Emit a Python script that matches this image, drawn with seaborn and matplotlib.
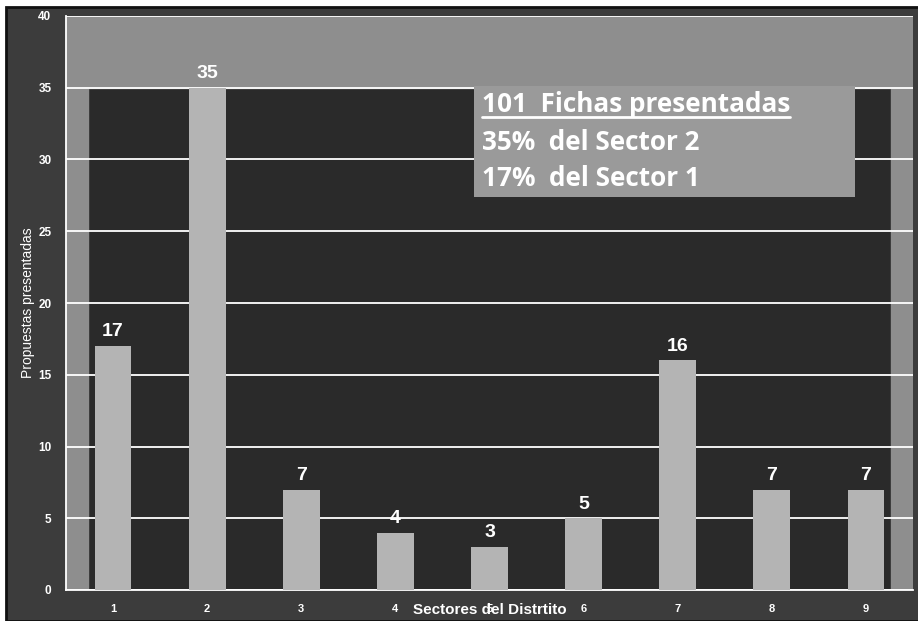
import matplotlib
matplotlib.use("Agg")
import matplotlib.pyplot as plt
import matplotlib.patches as mpatches
import seaborn as sns
import pandas as pd

# datos
sectores = ["1", "2", "3", "4", "5", "6", "7", "8", "9"]
propuestas = [17, 35, 7, 4, 3, 5, 16, 7, 7]
resumen = ["101  Fichas presentadas", "35%  del Sector 2", "17%  del Sector 1"]

df = pd.DataFrame({"Sector": sectores, "Propuestas": propuestas})

sns.set_style("dark")
plt.rcParams["font.family"] = ["Liberation Sans", "DejaVu Sans"]

fig = plt.figure(figsize=(9.18, 6.21), dpi=100, facecolor="white")
# marco oscuro de la figura
fig.patches.append(mpatches.Rectangle((6 / 918, 0), 1, 1 - 7 / 621, transform=fig.transFigure,
                                      facecolor="#3c3c3c", edgecolor="#111111", lw=2, zorder=-10))
ax = fig.add_axes([66 / 918, 31 / 621, 847 / 918, 574 / 621])
ax.set_facecolor("#2a2a2a")

# paredes claras (fondo 3D)
ax.axhspan(35, 40, color="#8e8e8e", zorder=0)
ax.axvspan(-0.5, -0.27, ymax=35 / 40, color="#8e8e8e", zorder=0)
ax.axvspan(8.27, 8.5, ymax=35 / 40, color="#8e8e8e", zorder=0)

sns.barplot(data=df, x="Sector", y="Propuestas", color="#b4b4b4", saturation=1,
            width=0.39, linewidth=0, edgecolor="none", ax=ax, zorder=3)

ax.bar_label(ax.containers[0], padding=4, color="white", fontsize=14, fontweight="bold")

ax.set_xlim(-0.5, 8.5)
ax.set_ylim(0, 40)
ax.set_yticks(range(0, 41, 5))
ax.yaxis.grid(True, color="white", lw=1.3, zorder=1)
ax.xaxis.grid(False)
ax.set_axisbelow(True)

ax.tick_params(axis="y", colors="white", labelsize=8.5, length=7, width=1.2, direction="out")
ax.tick_params(axis="x", colors="white", labelsize=8, length=0, pad=10)
for lbl in ax.get_yticklabels() + ax.get_xticklabels():
    lbl.set_fontweight("bold")
# marcas entre categorias
ax.set_xticks([i + 0.5 for i in range(-1, 9)], minor=True)
ax.tick_params(axis="x", which="minor", colors="white", length=5, width=1.2, direction="out")

for s in ["top", "right"]:
    ax.spines[s].set_visible(False)
ax.spines["left"].set_color("white")
ax.spines["bottom"].set_color("white")
ax.spines["left"].set_linewidth(1.3)
ax.spines["bottom"].set_linewidth(1.3)

ax.set_ylabel("Propuestas presentadas", color="white", fontsize=10)
ax.yaxis.set_label_coords(-0.037, 0.5)
ax.set_xlabel("Sectores del Distrtito", color="white", fontsize=11, fontweight="bold")
ax.xaxis.set_label_coords(0.5, -0.022)

# recuadro de resumen
box = mpatches.Rectangle((474 / 918, 1 - 197 / 621), (855 - 474) / 918, (197 - 86) / 621,
                         transform=fig.transFigure, facecolor="#9a9a9a", edgecolor="none", zorder=5)
fig.patches.append(box)
textos = []
for i, linea in enumerate(resumen):
    t = fig.text(482 / 918, 1 - (105 + 37 * i) / 621, linea, color="white", fontsize=18.8,
                 fontweight="bold", family=["Open Sans", "DejaVu Sans"], va="center", ha="left",
                 zorder=6)
    textos.append(t)

# subrayado de la primera linea segun su ancho real
fig.canvas.draw()
bb = textos[0].get_window_extent().transformed(fig.transFigure.inverted())
fig.lines.append(plt.Line2D([bb.x0, bb.x1], [bb.y0 + 0.002, bb.y0 + 0.002],
                            transform=fig.transFigure, color="white", lw=2, zorder=6))

fig.savefig("out.png", dpi=100, facecolor=fig.get_facecolor())
